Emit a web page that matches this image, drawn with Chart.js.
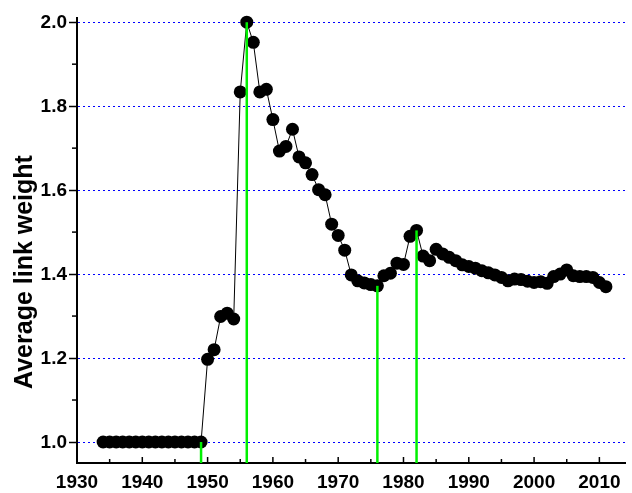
<!DOCTYPE html>
<html>
<head>
<meta charset="utf-8">
<script src="https://cdn.jsdelivr.net/npm/chart.js@4.4.1/dist/chart.umd.min.js"></script>
<style>
  html, body { margin: 0; padding: 0; background: #fff; }
  #wrap { width: 632px; height: 493px; position: relative; }
</style>
</head>
<body>
<div id="wrap"><canvas id="chart"></canvas></div>
<script>
// data
const years = [1934, 1935, 1936, 1937, 1938, 1939, 1940, 1941, 1942, 1943, 1944, 1945, 1946, 1947, 1948, 1949,
  1950, 1951, 1952, 1953, 1954, 1955, 1956, 1957, 1958, 1959, 1960, 1961, 1962, 1963, 1964, 1965, 1966, 1967, 1968, 1969,
  1970, 1971, 1972, 1973, 1974, 1975, 1976, 1977, 1978, 1979, 1980, 1981, 1982, 1983, 1984, 1985, 1986, 1987, 1988, 1989,
  1990, 1991, 1992, 1993, 1994, 1995, 1996, 1997, 1998, 1999, 2000, 2001, 2002, 2003, 2004, 2005, 2006, 2007, 2008, 2009,
  2010, 2011];
const weights = [1.0, 1.0, 1.0, 1.0, 1.0, 1.0, 1.0, 1.0, 1.0, 1.0, 1.0, 1.0, 1.0, 1.0, 1.0, 1.0,
  1.197, 1.22, 1.299, 1.307, 1.293, 1.834, 2.0, 1.952, 1.834, 1.84, 1.768, 1.693, 1.704, 1.745, 1.679, 1.665, 1.637, 1.601, 1.589, 1.519,
  1.492, 1.457, 1.398, 1.384, 1.379, 1.375, 1.372, 1.396, 1.402, 1.426, 1.423, 1.49, 1.504, 1.443, 1.432, 1.459, 1.448, 1.44, 1.432, 1.422,
  1.418, 1.414, 1.408, 1.403, 1.398, 1.392, 1.384, 1.388, 1.387, 1.383, 1.38, 1.382, 1.378, 1.394, 1.4, 1.41, 1.396, 1.394, 1.394, 1.392,
  1.38, 1.37];
const markYears = [1949, 1956, 1976, 1982];   // green drop lines
const xTicks = [1930, 1940, 1950, 1960, 1970, 1980, 1990, 2000, 2010];
const yTicks = [1.0, 1.2, 1.4, 1.6, 1.8, 2.0];
const yTitle = 'Average link weight';

const points = years.map((yr, i) => ({ x: yr, y: weights[i] }));
const FONT = 'Arial, "Liberation Sans", sans-serif';

// green lines, inward x ticks, minor y ticks, tick labels, axis title
const extras = {
  id: 'extras',
  afterDatasetsDraw(chart) {
    const { ctx, scales: { x, y } } = chart;
    ctx.save();
    ctx.strokeStyle = '#00f000';
    ctx.lineWidth = 2.5;
    markYears.forEach(yr => {
      const v = weights[years.indexOf(yr)];
      const px = x.getPixelForValue(yr);
      ctx.beginPath();
      ctx.moveTo(px, y.bottom);
      ctx.lineTo(px, y.getPixelForValue(v));
      ctx.stroke();
    });
    ctx.restore();
  },
  afterDraw(chart) {
    const { ctx, scales: { x, y } } = chart;
    ctx.save();
    ctx.strokeStyle = '#000';
    ctx.lineWidth = 1.5;
    for (let i = 0; i < xTicks.length; i++) {
      const px = x.getPixelForValue(xTicks[i]);
      ctx.beginPath();
      ctx.moveTo(px, y.bottom);
      ctx.lineTo(px, y.bottom - 6);
      ctx.stroke();
      const mid = x.getPixelForValue(xTicks[i] + 5);
      if (mid < x.right) {
        ctx.beginPath();
        ctx.moveTo(mid, y.bottom);
        ctx.lineTo(mid, y.bottom - 4);
        ctx.stroke();
      }
    }
    for (let i = 0; i < yTicks.length - 1; i++) {
      const py = y.getPixelForValue((yTicks[i] + yTicks[i + 1]) / 2);
      ctx.beginPath();
      ctx.moveTo(x.left, py);
      ctx.lineTo(x.left - 5, py);
      ctx.stroke();
    }

    ctx.fillStyle = '#000';
    ctx.font = 'bold 19px ' + FONT;
    ctx.textBaseline = 'middle';
    ctx.textAlign = 'right';
    yTicks.forEach(v => ctx.fillText(v.toFixed(1), x.left - 10, y.getPixelForValue(v) + 1));
    ctx.textAlign = 'center';
    xTicks.forEach(v => ctx.fillText(String(v), x.getPixelForValue(v), y.bottom + 20));

    // y title, sits a bit below the middle like the original
    ctx.translate(25, 272);
    ctx.rotate(-Math.PI / 2);
    ctx.font = 'bold 25px ' + FONT;
    ctx.fillText(yTitle, 0, 0);
    ctx.restore();
  }
};

new Chart(document.getElementById('chart'), {
  type: 'scatter',
  data: {
    datasets: [{
      data: points,
      showLine: true,
      borderColor: '#000',
      borderWidth: 1,
      pointRadius: 6.5,
      pointBackgroundColor: '#000',
      pointBorderColor: '#000',
      pointBorderWidth: 0,
      clip: false
    }]
  },
  options: {
    responsive: true,
    maintainAspectRatio: false,
    animation: false,
    layout: { padding: { top: 18, right: 1, left: 0, bottom: 0 } },
    plugins: { legend: { display: false }, tooltip: { enabled: false } },
    scales: {
      x: {
        type: 'linear',
        min: 1930,
        max: 2014,
        afterFit(s) { s.height = 30; },
        afterBuildTicks(s) { s.ticks = xTicks.map(v => ({ value: v })); },
        grid: { drawOnChartArea: false, drawTicks: false },
        border: { display: true, color: '#000', width: 2 },
        ticks: { display: false }
      },
      y: {
        min: 0.95,
        max: 2.01,
        afterFit(s) { s.width = 77; },
        afterBuildTicks(s) { s.ticks = yTicks.map(v => ({ value: v })); },
        grid: {
          color: '#0000ff',
          lineWidth: 1,
          drawTicks: true,
          tickLength: 8,
          tickColor: '#000',
          tickWidth: 1.5,
          tickBorderDash: []
        },
        border: { display: true, color: '#000', width: 2, dash: [2, 3] },
        ticks: { display: false }
      }
    }
  },
  plugins: [extras]
});
</script>
</body>
</html>
